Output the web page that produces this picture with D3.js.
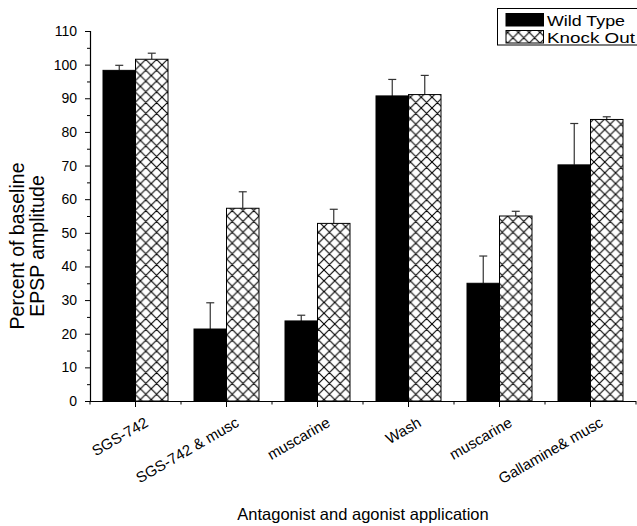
<!DOCTYPE html>
<html>
<head>
<meta charset="utf-8">
<script src="https://cdn.jsdelivr.net/npm/d3@7"></script>
<style>
  html, body { margin: 0; padding: 0; background: #fff; }
  svg { display: block; }
  text { font-family: "Liberation Sans", Arial, Helvetica, sans-serif; fill: #000; }
</style>
</head>
<body>
<svg id="chart" width="637" height="526"></svg>
<script>
const categories = ["SGS-742", "SGS-742 & musc", "muscarine", "Wash", "muscarine", "Gallamine& musc"];
const wildType    = [98.3, 21.4, 23.8, 90.7, 35.0, 70.2];
const wildTypeErr = [1.5, 7.8, 1.7, 4.9, 8.1, 12.3];
const knockOut    = [101.6, 57.3, 52.8, 91.1, 55.0, 83.7];
const knockOutErr = [1.8, 4.9, 4.2, 5.7, 1.4, 0.8];
const yTicks = [0, 10, 20, 30, 40, 50, 60, 70, 80, 90, 100, 110];
const seriesNames = ["Wild Type", "Knock Out"];
const yTitleLines = ["Percent of baseline", "EPSP amplitude"];
const xTitle = "Antagonist and agonist application";

const svg = d3.select("#chart");
const mLeft = 90, mRight = 636, mTop = 31, mBottom = 401;

const idx = categories.map((d, i) => i);
const x = d3.scaleBand().domain(idx).range([mLeft, mRight]).padding(0);
const y = d3.scaleLinear().domain([0, 110]).range([mBottom, mTop]);
const barW = 32.5;

// hatch pattern
const defs = svg.append("defs");
const pat = defs.append("pattern").attr("id", "hatch")
  .attr("patternUnits", "userSpaceOnUse").attr("width", 10.8).attr("height", 10.8);
pat.append("rect").attr("width", 10.8).attr("height", 10.8).attr("fill", "#fff");
pat.append("path").attr("d", "M0,0L10.8,10.8M10.8,0L0,10.8M-1,9.8L1,11.8M9.8,-1L11.8,1M-1,1L1,-1M9.8,11.8L11.8,9.8")
  .attr("stroke", "#000").attr("stroke-width", 1.1).attr("fill", "none");

const data = idx.map(i => ({i, wt: wildType[i], wtE: wildTypeErr[i], ko: knockOut[i], koE: knockOutErr[i]}));

// error bars (drawn first, behind bars)
const errG = svg.append("g").attr("stroke", "#333").attr("stroke-width", 1.2);
data.forEach(d => {
  const cx = x(d.i) + x.bandwidth() / 2;
  [[cx - barW / 2, d.wt, d.wtE], [cx + barW / 2, d.ko, d.koE]].forEach(([ex, v, e]) => {
    errG.append("line").attr("x1", ex).attr("x2", ex).attr("y1", y(v)).attr("y2", y(v + e));
    errG.append("line").attr("x1", ex - 4).attr("x2", ex + 4).attr("y1", y(v + e)).attr("y2", y(v + e));
  });
});

// bars
const barsG = svg.append("g");
barsG.selectAll("rect.wt").data(data).join("rect").attr("class", "wt")
  .attr("x", d => x(d.i) + x.bandwidth() / 2 - barW)
  .attr("y", d => y(d.wt)).attr("width", barW).attr("height", d => y(0) - y(d.wt))
  .attr("fill", "#000").attr("stroke", "#000").attr("stroke-width", 1);
barsG.selectAll("rect.ko").data(data).join("rect").attr("class", "ko")
  .attr("x", d => x(d.i) + x.bandwidth() / 2)
  .attr("y", d => y(d.ko)).attr("width", barW).attr("height", d => y(0) - y(d.ko))
  .attr("fill", "url(#hatch)").attr("stroke", "#000").attr("stroke-width", 1);

// y axis
const yAxis = svg.append("g").attr("transform", `translate(${mLeft},0)`)
  .call(d3.axisLeft(y).tickValues(yTicks).tickSize(5).tickPadding(8));
yAxis.select(".domain").attr("stroke-width", 1.2);
yAxis.selectAll("text").style("font-size", "14px");
const yMinor = svg.append("g").attr("transform", `translate(${mLeft},0)`)
  .call(d3.axisLeft(y).tickValues(yTicks.slice(0, -1).map(v => v + 5)).tickSize(3).tickFormat(""));
yMinor.select(".domain").remove();

// x axis: major ticks at category centres, minor at boundaries
const xAxis = svg.append("g").attr("transform", `translate(0,${mBottom})`)
  .call(d3.axisBottom(x).tickSize(6).tickFormat(""));
xAxis.select(".domain").attr("d", `M${mLeft},0.5H${mRight}`).attr("stroke-width", 1.2);
const bounds = idx.map(i => x(i)).concat([mRight]);
svg.append("g").selectAll("line").data(bounds).join("line")
  .attr("x1", d => d).attr("x2", d => d).attr("y1", mBottom).attr("y2", mBottom + 3.5)
  .attr("stroke", "#000");

// x tick labels rotated
svg.append("g").selectAll("text").data(data).join("text")
  .attr("transform", d => `translate(${x(d.i) + x.bandwidth() / 2 + 11},${mBottom + 20}) rotate(-30)`)
  .attr("text-anchor", "end").attr("dy", "0.35em")
  .style("font-size", "15px")
  .text(d => categories[d.i]);

// y title
const yT = svg.append("text").attr("transform", "translate(0,246) rotate(-90)")
  .attr("text-anchor", "middle").style("font-size", "19.5px");
yTitleLines.forEach((t, k) => {
  yT.append("tspan").attr("x", 0).attr("y", 24 + k * 20).text(t);
});

// x title
svg.append("text").attr("x", 363).attr("y", 520).attr("text-anchor", "middle")
  .style("font-size", "16.5px").text(xTitle);

// legend
const lg = svg.append("g");
lg.append("rect").attr("x", 497.5).attr("y", 8.5).attr("width", 150).attr("height", 36.5)
  .attr("fill", "#fff").attr("stroke", "#000");
const swatchFill = ["#000", "url(#hatch)"];
const legendLen = [78, 88];
seriesNames.forEach((n, k) => {
  lg.append("rect").attr("x", 506).attr("y", 13.5 + k * 17).attr("width", 37.5).attr("height", 12.5)
    .attr("fill", swatchFill[k]).attr("stroke", "#000");
  lg.append("text").attr("x", 547).attr("y", 25.5 + k * 17).style("font-size", "15px")
    .attr("textLength", legendLen[k]).attr("lengthAdjust", "spacingAndGlyphs").text(n);
});
</script>
</body>
</html>
